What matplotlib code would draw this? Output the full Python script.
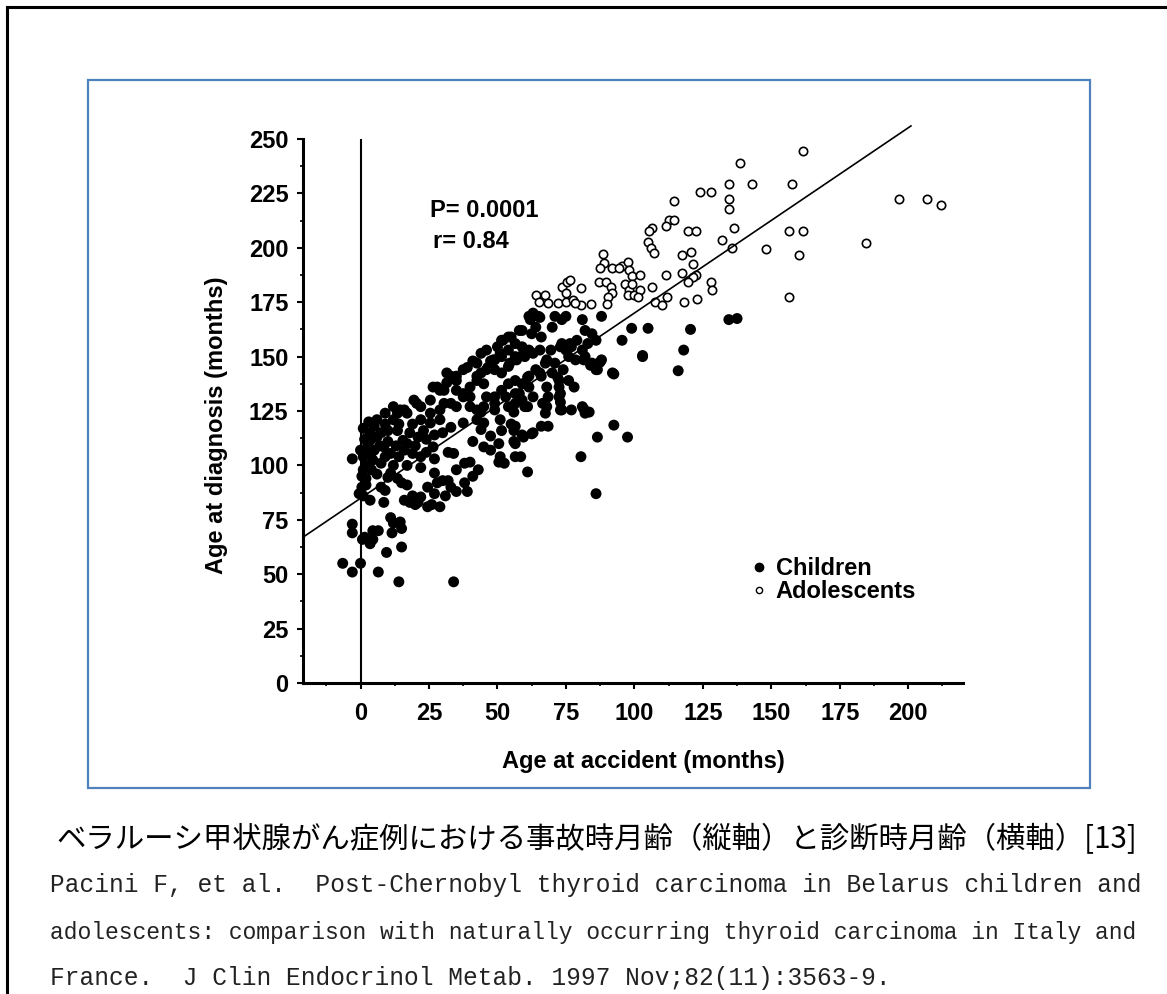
import matplotlib
matplotlib.use("Agg")
import matplotlib.pyplot as plt
from matplotlib.lines import Line2D
from matplotlib.patches import Rectangle
from matplotlib.ticker import MultipleLocator

# Age at accident (months), age at diagnosis (months)
children = [
    (-6.5, 55), (-3, 51), (-3, 103), (-3, 73), (-3, 69), (0, 55), (0, 107), (1, 98), (0.5, 90),
    (-0.5, 87), (1, 86), (0.7, 66), (3.5, 84), (4.5, 66), (4.5, 70), (6.5, 70), (1.5, 67),
    (3.5, 64), (6.5, 51), (9.5, 60), (11, 76), (12, 73.5), (14.5, 74), (15, 71), (11.5, 69),
    (14, 46.5), (15, 62.5), (34, 46.5), (8.5, 83), (2, 91),
    (18, 83), (21, 83), (24.5, 81), (29, 81), (19, 86), (22, 85.5), (35, 88), (39, 88), (35, 98),
    (38, 92), (28, 92), (30, 93), (32, 93), (27, 96.5), (11, 96.5), (13.5, 94), (15, 92), (17, 91),
    (7.5, 90), (9, 88.5), (10, 94.5), (22, 99), (26, 82), (17, 100), (24.5, 90), (27, 87), (38, 101),
    (40, 101.5), (27, 103), (32, 106), (34, 105.5), (19, 105.5), (22, 104), (26.5, 108.5), (20, 82),
    (16, 84), (31, 86), (33, 90), (41, 95), (43, 98),
    (3.5, 111.5), (6, 113), (8.5, 108.5), (11, 105.5), (4.5, 102.5), (7.5, 101), (2.5, 108.5),
    (13.5, 116), (15.5, 111.5), (18, 115), (21, 113), (23, 116), (25.5, 119.5), (29, 121),
    (33, 117.5), (37.5, 119.5), (42.5, 121), (45, 119.5), (41, 111), (45, 108.5), (47.5, 107),
    (3.5, 115), (7.5, 115), (12, 121), (17, 124), (22, 121), (25.5, 124), (29, 125.5), (1, 104),
    (2, 100), (5, 107), (9, 104), (10, 111), (13, 109), (16, 107), (6, 96), (12, 100), (0.5, 95),
    (1.5, 112), (5, 118), (9, 119), (2, 94), (4, 98), (14, 104), (17, 110),
    (3, 120), (6, 121), (9, 124), (1, 117), (4, 106), (7, 109), (10, 116), (14, 119), (19, 119),
    (24, 112), (27, 114), (30, 115), (20, 109), (24, 106),
    (12, 127), (14.5, 125.5), (19.5, 130), (22, 127), (26.5, 136), (29, 134.5), (31.5, 142.5),
    (35, 139), (39, 145), (41, 148), (44, 151.5), (46, 153), (50, 154.5), (52, 157.5), (55, 159),
    (58, 162), (62, 167), (63, 170), (65.5, 168), (42.5, 147), (37.5, 144), (35, 141), (33, 141),
    (31.5, 138), (28, 136), (30.5, 134.5), (35, 134.5), (37.5, 131.5), (40, 131.5), (45, 137.5),
    (42.5, 141), (46, 144), (47.5, 148), (25.5, 130), (20.5, 128.5), (16, 125.5), (13.5, 124),
    (30.5, 128.5), (33, 128.5), (35, 127), (40, 127), (42.5, 125.5), (45, 127), (46, 131.5),
    (37.5, 133), (40, 136), (42.5, 139), (44, 142.5), (46.5, 145), (48.5, 148.5), (51, 151.5),
    (54.5, 147), (57, 148.5), (59.5, 151.5), (63, 151.5), (65.5, 153), (69.5, 153), (73, 154.5),
    (76.5, 156), (79, 157.5),
    (51.5, 157.5), (54, 159), (56.5, 156), (59, 154.5), (61.5, 153), (54, 153), (51.5, 150),
    (56.5, 150), (60, 150), (49, 148.5), (61.5, 168.5), (65, 168.5), (64, 163.5), (59, 162),
    (66, 159), (62.5, 160.5), (71, 168.5), (73.5, 167), (75, 168.5), (70, 163.5), (81, 167),
    (88, 168.5), (99, 163), (105, 163), (95.5, 157.5), (103, 150), (82, 162), (84.5, 160.5),
    (86, 157.5), (83, 156), (81, 153), (77, 154.5), (75, 153), (76, 150), (78.5, 148.5),
    (73.5, 156), (68, 148.5), (71, 147), (82, 150), (84.5, 147), (87, 147), (86, 144), (88, 148.5),
    (92, 142.5), (54, 145.5), (51.5, 142.5), (49, 144), (56.5, 139), (59, 137.5), (61.5, 141),
    (64, 144), (67.5, 147), (66, 141), (70, 142.5), (54, 137.5), (51.5, 134.5), (56.5, 133),
    (61.5, 136), (49, 131.5), (53, 131.5), (59, 130), (60, 127), (56.5, 128.5), (54, 127),
    (49, 128.5), (72.5, 139), (72.5, 136), (76, 139), (68.5, 131.5), (72.5, 131.5), (67.5, 124),
    (73.5, 125.5), (81, 127), (82, 124),
    (61, 140.5), (65.5, 142.5), (72, 140.5), (74, 144), (58, 133), (63, 131.5), (68, 136), (73, 133),
    (78, 136), (68, 127), (73, 129), (77, 125.5), (56, 124.5), (61, 127), (66.5, 128.5), (44, 124.5),
    (49, 125.5), (51, 121), (44, 116.5), (47.5, 113.5),
    (51.5, 116), (55, 119), (56.5, 118), (50.5, 110), (56.5, 110), (59, 114), (62.5, 114.5),
    (66, 118), (68.5, 118), (51, 104), (52.5, 101), (50.5, 101.5), (56.5, 104), (58.5, 104),
    (61, 97), (86.5, 113), (92.5, 118.5), (97.5, 113), (80.5, 104), (86, 87), (73, 125.5),
    (63, 115), (59.5, 113), (56, 111), (56, 116),
    (120.5, 162.5), (134.5, 167), (137.5, 167.5), (103, 150.5), (118, 153), (116, 143.5),
    (92.5, 142), (81.5, 148.5), (84, 146), (86.5, 144), (87.5, 147.5), (81.5, 126), (83.5, 124.5),
]

adolescents = [
    (161.5, 244.5), (138.5, 239), (134.5, 229.5), (143, 229.5), (157.5, 229.5), (124, 225.5),
    (128, 225.5), (114.5, 221.5), (134.5, 222.5), (134.5, 218), (196.5, 222.5), (207, 222.5),
    (212, 219.5), (112.5, 213), (114.5, 213), (111.5, 210), (106.5, 209), (105.5, 207.5),
    (119.5, 207.5), (122.5, 207.5), (136.5, 209), (156.5, 207.5), (161.5, 207.5), (132, 203.5),
    (105, 202.5), (106, 200), (107, 197.5), (148, 199.5), (184.5, 202), (160, 196.5),
    (117.5, 196.5), (120.5, 198), (121.5, 192.5), (135.5, 200), (88.5, 197), (89, 193), (92, 190.5),
    (95.5, 191.5), (97.5, 193.5), (98, 190), (87.5, 190.5), (94.5, 190.5), (99, 187), (102, 187.5),
    (111.5, 187.5), (117.5, 188.5), (122.5, 187.5), (121.5, 186.5), (87, 184.5), (89.5, 184.5),
    (91.5, 182), (92, 179), (90.5, 177.5), (96.5, 183.5), (98, 180.5), (99, 183.5), (97.5, 178.5),
    (100, 178.5), (102, 180.5), (101.5, 177.5), (106.5, 182), (119.5, 184.5), (128, 184.5),
    (128.5, 180.5), (107.5, 175), (110, 173.5), (112, 177.5), (118, 175), (123, 176.5),
    (156.5, 177.5), (80.5, 173.5), (84, 174), (90, 174), (64, 178.5), (67.5, 178.5), (65, 175),
    (68.5, 174.5), (72, 174.5), (75, 175), (77.5, 176), (78.5, 174.5), (73.5, 182), (75, 179),
    (75.5, 184.5), (76.5, 185), (80.5, 181.5),
]

# regression line end points
fit_acc = [-21, 201]
fit_diag = [67, 256]

x_ticks = [0, 25, 50, 75, 100, 125, 150, 175, 200]
y_ticks = [0, 25, 50, 75, 100, 125, 150, 175, 200, 225, 250]

stats_text = ["P= 0.0001", "r= 0.84"]
caption = "ベラルーシ甲状腺がん症例における事故時月齢（縦軸）と診断時月齢（横軸）[13]"
citation = [
    "Pacini F, et al.  Post-Chernobyl thyroid carcinoma in Belarus children and",
    "adolescents: comparison with naturally occurring thyroid carcinoma in Italy and",
    "France.  J Clin Endocrinol Metab. 1997 Nov;82(11):3563-9.",
]

W, H = 1167, 994
fig = plt.figure(figsize=(W / 100, H / 100), dpi=100)
ax = fig.add_axes([303 / W, 1 - 683 / H, 660 / W, 544 / H])

font = "Liberation Sans"

cx = [p[0] for p in children]
cy = [p[1] for p in children]
ax_ = [p[0] for p in adolescents]
ay = [p[1] for p in adolescents]

ax.scatter(cx, cy, s=62, c="black", edgecolors="none", zorder=3)
ax.scatter(ax_, ay, s=36, facecolors="white", edgecolors="black", linewidths=1.2, zorder=3)
ax.plot(fit_acc, fit_diag, color="black", lw=1.2, clip_on=False, zorder=4)
ax.axvline(0, color="black", lw=1.5, zorder=2)

ax.set_xlim(-21, 220)
ax.set_ylim(0, 250)
ax.set_xticks(x_ticks)
ax.set_yticks(y_ticks)
ax.xaxis.set_minor_locator(MultipleLocator(12.5))
ax.yaxis.set_minor_locator(MultipleLocator(12.5))

for s in ["top", "right"]:
    ax.spines[s].set_visible(False)
for s in ["left", "bottom"]:
    ax.spines[s].set_linewidth(2.2)

ax.tick_params(which="major", length=4.5, width=1.5, direction="out", pad=6)
ax.tick_params(which="minor", length=2.5, width=1.2, direction="out")
ax.tick_params(axis="x", which="major", pad=9)
for lab in ax.get_xticklabels() + ax.get_yticklabels():
    lab.set_fontfamily(font)
    lab.set_fontweight("bold")
    lab.set_fontsize(17)

ax.set_xlabel("Age at accident (months)", fontfamily=font, fontweight="bold", fontsize=17)
ax.set_ylabel("Age at diagnosis (months)", fontfamily=font, fontweight="bold", fontsize=17)
ax.xaxis.set_label_coords((643 - 303) / 660, (683 - 750) / 544)
ax.yaxis.set_label_coords((228 - 303) / 660, (683 - 425) / 544)

ax.text(25.5, 217, stats_text[0], fontfamily=font, fontweight="bold", fontsize=17, va="center")
ax.text(26.5, 203, stats_text[1], fontfamily=font, fontweight="bold", fontsize=17, va="center")

handles = [
    Line2D([], [], ls="none", marker="o", ms=6, mfc="black", mec="black"),
    Line2D([], [], ls="none", marker="o", ms=4.5, mfc="white", mec="black", mew=1),
]
ax.legend(handles, ["Children", "Adolescents"], loc="center left",
          bbox_to_anchor=((752 - 303) / 660, (683 - 580) / 544), frameon=False,
          handlelength=0.6, handletextpad=0.4, borderpad=0, borderaxespad=0,
          labelspacing=0.0, prop={"family": font, "weight": "bold", "size": 17})

# blue frame around the chart, black page border
fig.patches.append(Rectangle((88 / W, 1 - 788 / H), (1090 - 88) / W, (788 - 80) / H,
                             transform=fig.transFigure, fill=False, ec="#4F81BD", lw=1.6))
fig.add_artist(Line2D([7 / W, 1], [1 - 7 / H, 1 - 7 / H], color="black", lw=2.2))
fig.add_artist(Line2D([7 / W, 7 / W], [0, 1 - 7 / H], color="black", lw=2.2))

fig.text(56 / W, 1 - 840 / H, caption, fontfamily=["Noto Sans CJK JP"], fontsize=21.2,
         va="center", ha="left")

target = 1139 - 50
size1 = target / (len(citation[0]) * 0.6) * 0.72
size2 = target / (len(citation[1]) * 0.6) * 0.72
for i, (line, yy) in enumerate(zip(citation, [885, 933, 978])):
    fs = size2 if i == 1 else size1
    fig.text(50 / W, 1 - yy / H, line, fontfamily="Liberation Mono", fontsize=fs,
             va="center", ha="left", color="#222222")

fig.savefig("out.png", dpi=100)
